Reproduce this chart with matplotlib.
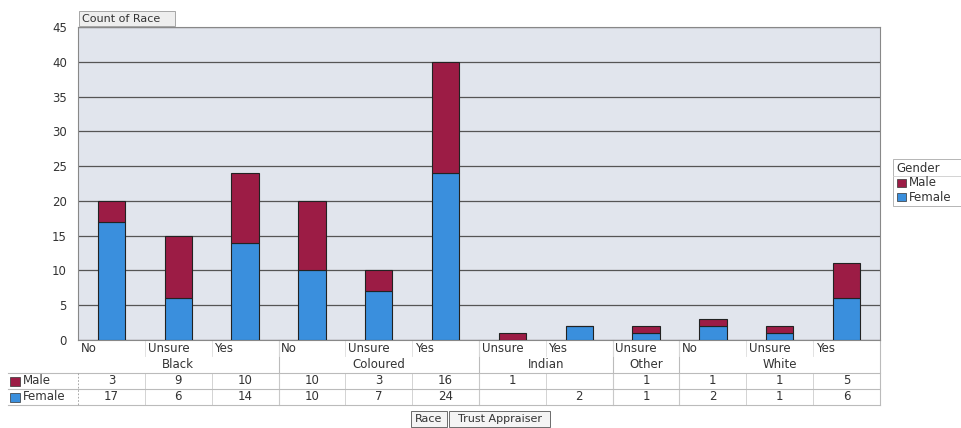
import matplotlib
matplotlib.use("Agg")
import matplotlib.pyplot as plt
import matplotlib.transforms as mtransforms
from matplotlib.patches import Rectangle
import numpy as np

plt.rcParams['font.family'] = ['DejaVu Sans']

# Race groups and trust responses
groups = ["Black", "Coloured", "Indian", "Other", "White"]
responses = [["No", "Unsure", "Yes"],
             ["No", "Unsure", "Yes"],
             ["Unsure", "Yes"],
             ["Unsure"],
             ["No", "Unsure", "Yes"]]
male = [3, 9, 10, 10, 3, 16, 1, None, 1, 1, 1, 5]
female = [17, 6, 14, 10, 7, 24, None, 2, 1, 2, 1, 6]
yticks = [0, 5, 10, 15, 20, 25, 30, 35, 40, 45]

MALE_C = "#9c1c45"
FEMALE_C = "#3a8fdd"
TXT = "#333333"
GRID = "#555555"
LINE = "#bbbbbb"
FS = 8.5

W, H = 961, 428
fig = plt.figure(figsize=(W / 100, H / 100), dpi=100)
fig.patch.set_facecolor("white")

def fy(py):
    return 1 - py / H

def fx(px):
    return px / W

x_left, x_right, y_top, y_bot = 78, 880, 27, 340
ax = fig.add_axes([fx(x_left), fy(y_bot), fx(x_right - x_left), fy(y_top) - fy(y_bot)])
ax.set_facecolor("#e1e5ed")

n = len(male)
x = np.arange(n)
m = np.array([v if v is not None else 0 for v in male], dtype=float)
f = np.array([v if v is not None else 0 for v in female], dtype=float)
bw = 0.41
ax.bar(x, f, width=bw, color=FEMALE_C, edgecolor="#222222", linewidth=0.8, zorder=3)
ax.bar(x, m, width=bw, bottom=f, color=MALE_C, edgecolor="#222222", linewidth=0.8, zorder=3)

ax.set_xlim(-0.5, n - 0.5)
ax.set_ylim(0, 45)
ax.set_yticks(yticks)
ax.set_yticklabels([str(t) for t in yticks], fontsize=FS, color=TXT)
ax.tick_params(axis="y", length=0, pad=8)
ax.set_xticks([])
ax.yaxis.grid(True, color=GRID, linewidth=0.9, zorder=1)
for s in ax.spines.values():
    s.set_color("#888888")
    s.set_linewidth(0.8)

# Category header and data table below the plot
tr = mtransforms.blended_transform_factory(ax.transData, fig.transFigure)
label_y, group_y = 349, 365
row_y = {"Male": 381, "Female": 397}
hlines = [373, 389, 405]

idx = 0
for g, resp in zip(groups, responses):
    start = idx
    for r in resp:
        ax.text(idx - 0.5 + 0.04, fy(label_y), r, transform=tr, fontsize=FS,
                color=TXT, ha="left", va="center")
        idx += 1
    ax.text((start + idx - 1) / 2, fy(group_y), g, transform=tr, fontsize=FS,
            color=TXT, ha="center", va="center")
    # group boundary lines
    ax.plot([idx - 0.5, idx - 0.5], [fy(y_bot), fy(405)], transform=tr,
            color=LINE, linewidth=0.8, clip_on=False)

# slot boundary lines in the label and value rows
for k in range(1, n):
    ax.plot([k - 0.5, k - 0.5], [fy(y_bot), fy(356)], transform=tr,
            color="#dddddd", linewidth=0.6, clip_on=False)
    ax.plot([k - 0.5, k - 0.5], [fy(373), fy(405)], transform=tr,
            color="#cccccc", linewidth=0.6, clip_on=False)

for py in hlines:
    fig.add_artist(plt.Line2D([fx(8), fx(x_right)], [fy(py), fy(py)],
                              color=LINE, linewidth=0.8))
fig.add_artist(plt.Line2D([fx(x_left), fx(x_left)], [fy(373), fy(405)],
                          color="#999999", linewidth=0.6, linestyle=(0, (2, 2))))

for name, vals, col in [("Male", male, MALE_C), ("Female", female, FEMALE_C)]:
    py = row_y[name]
    fig.add_artist(Rectangle((fx(10), fy(py + 4.5)), fx(10), fy(py - 4.5) - fy(py + 4.5),
                             facecolor=col, edgecolor="#333333", linewidth=0.5))
    fig.text(fx(23), fy(py), name, fontsize=FS, color=TXT, ha="left", va="center")
    for k, v in enumerate(vals):
        if v is not None:
            ax.text(k, fy(py), str(v), transform=tr, fontsize=FS, color=TXT,
                    ha="center", va="center")

# Chart field label
fig.add_artist(Rectangle((fx(79), fy(26)), fx(96), fy(11) - fy(26),
                         facecolor="#eeeeee", edgecolor="#999999", linewidth=0.6))
fig.text(fx(82), fy(18.5), "Count of Race", fontsize=8, color=TXT, ha="left", va="center")

# Axis field buttons
for label, x0, x1 in [("Race", 411, 447), ("Trust Appraiser", 449, 550)]:
    fig.add_artist(Rectangle((fx(x0), fy(427)), fx(x1 - x0), fy(411) - fy(427),
                             facecolor="#f4f4f4", edgecolor="#555555", linewidth=0.6))
    fig.text(fx((x0 + x1) / 2), fy(419), label, fontsize=8, color=TXT,
             ha="center", va="center")

# Legend
lx = 893
fig.add_artist(Rectangle((fx(lx), fy(206)), fx(W - lx + 2), fy(159) - fy(206),
                         facecolor="white", edgecolor="#aaaaaa", linewidth=0.6))
fig.add_artist(plt.Line2D([fx(lx), fx(W)], [fy(176), fy(176)], color="#cccccc", linewidth=0.6))
fig.text(fx(lx + 3), fy(168), "Gender", fontsize=FS, color=TXT, ha="left", va="center")
for name, col, py in [("Male", MALE_C, 183), ("Female", FEMALE_C, 197)]:
    fig.add_artist(Rectangle((fx(lx + 4), fy(py + 4)), fx(9), fy(py - 4) - fy(py + 4),
                             facecolor=col, edgecolor="#333333", linewidth=0.5))
    fig.text(fx(lx + 16), fy(py), name, fontsize=FS, color=TXT, ha="left", va="center")

fig.savefig("out.png", dpi=100)
